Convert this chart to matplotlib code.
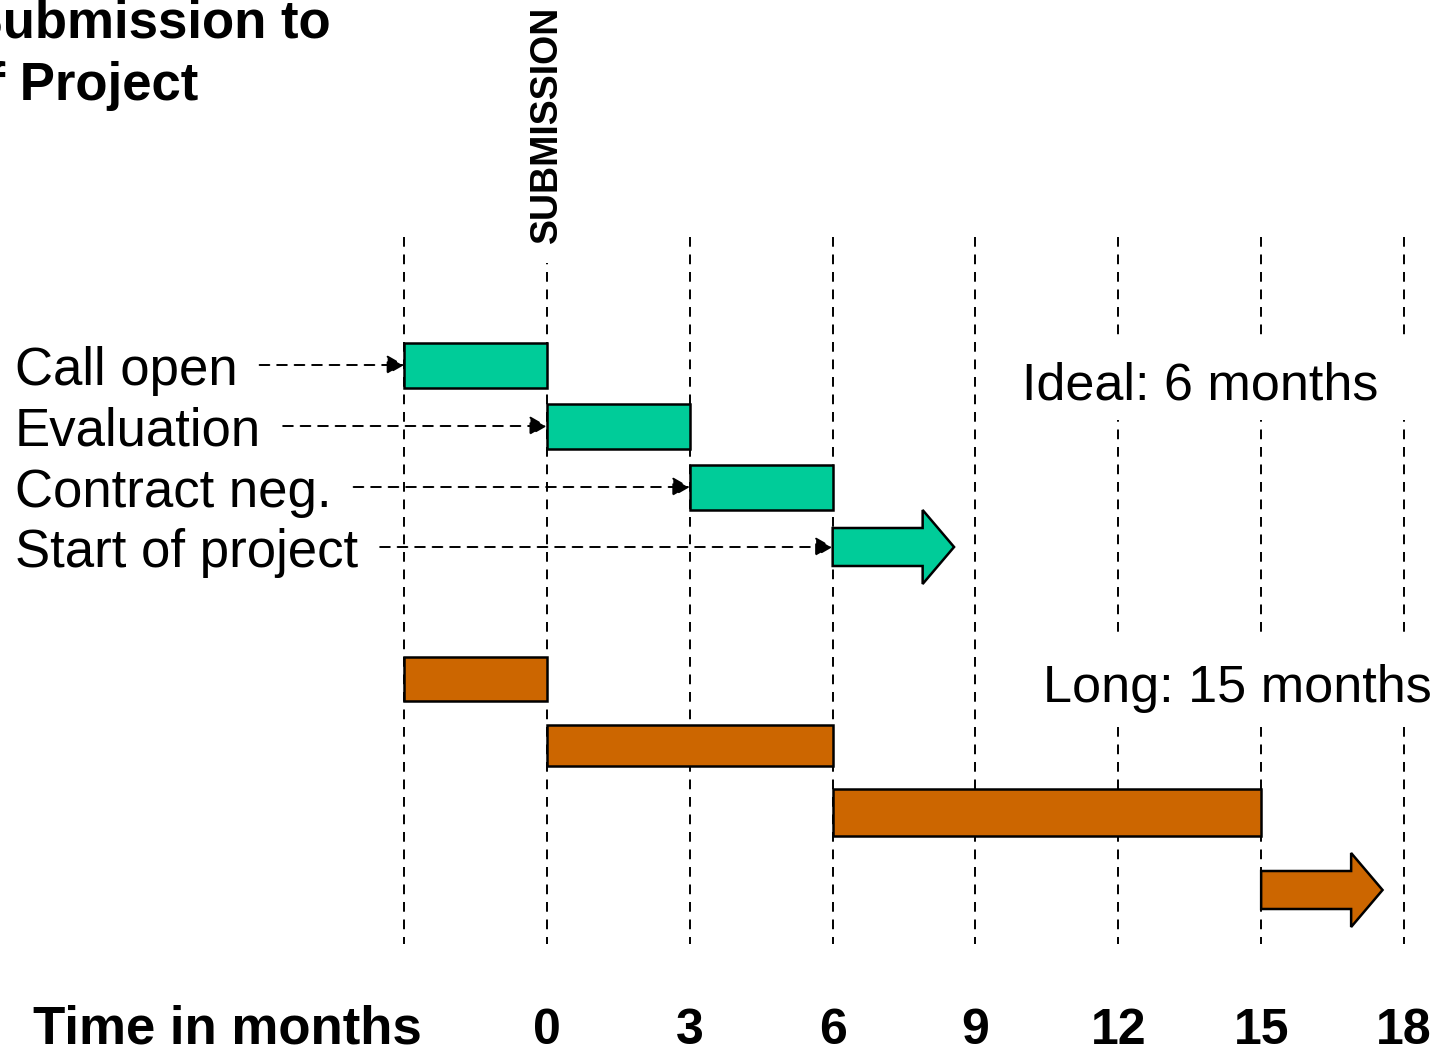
import matplotlib
matplotlib.use("Agg")
import matplotlib.pyplot as plt
from matplotlib.patches import FancyArrow, Rectangle

plt.rcParams['font.family'] = ['Liberation Sans', 'DejaVu Sans']

# --- data -------------------------------------------------------------
phases = ["Call open", "Evaluation", "Contract neg.", "Start of project"]
ideal_start = [-3, 0, 3, 6]
ideal_end = [0, 3, 6]          # last phase (start of project) is open ended
long_start = [-3, 0, 6, 15]
long_end = [0, 6, 15]
grid_months = [-3, 0, 3, 6, 9, 12, 15, 18]
tick_months = [0, 3, 6, 9, 12, 15, 18]
tick_labels = ["0", "3", "6", "9", "12", "15", "18"]
ideal_label = "Ideal: 6 months"
long_label = "Long: 15 months"

# --- layout (pixels, figure is 1450 x 1055) ---------------------------
W, H = 1450, 1055
X0_PX = 547.0          # pixel of month 0
PX_PER_MONTH = 47.61

def px(xp):
    """pixel x -> months"""
    return (xp - X0_PX) / PX_PER_MONTH

ideal_rows = [365, 426, 487, 547]
long_rows = [679, 745, 812, 890]
ideal_heights = [45, 45, 45]
long_heights = [44, 41, 47]
arrow_len = 2.55
green = '#00CC99'
orange = '#CC6600'
dash = (0, (5, 4))

fig = plt.figure(figsize=(W / 100, H / 100), dpi=100)
ax = fig.add_axes([0, 0, 1, 1])
ax.set_xlim(px(0), px(W))
ax.set_ylim(H, 0)
ax.axis('off')

# vertical month lines
ax.vlines(grid_months, 237, 944, colors='black', linestyles=dash, lw=1.4, zorder=1)

# white boxes behind the two summary labels
for y0, y1 in [(337, 420), (635, 727)]:
    ax.add_patch(Rectangle((px(1000), y0), px(W + 5) - px(1000), y1 - y0,
                           facecolor='white', edgecolor='none', zorder=2))

ax.text(px(1022), 400, ideal_label, fontsize=37.5, ha='left', va='baseline', zorder=3)
ax.text(px(1043), 702, long_label, fontsize=37.5, ha='left', va='baseline', zorder=3)


def draw_track(starts, ends, rows, heights, color):
    for s, e, y, h in zip(starts, ends, rows, heights):
        ax.barh(y, e - s, left=s, height=h, color=color, edgecolor='black',
                linewidth=1.8, zorder=4)
    ax.add_patch(FancyArrow(starts[-1], rows[-1], arrow_len, 0, width=38,
                            head_width=74, head_length=0.66,
                            length_includes_head=True, facecolor=color,
                            edgecolor='black', linewidth=1.8, zorder=4))


draw_track(ideal_start, ideal_end, ideal_rows, ideal_heights, green)
draw_track(long_start, long_end, long_rows, long_heights, orange)

# phase labels with dashed pointers to the ideal bars
fig.canvas.draw()
renderer = fig.canvas.get_renderer()
for name, s, y in zip(phases, ideal_start, ideal_rows):
    t = ax.text(px(15), y + 20, name, fontsize=38, ha='left', va='baseline', zorder=3)
    bb = t.get_window_extent(renderer)
    x_from = px(bb.x1 + 22)
    ax.annotate('', xy=(s, y), xytext=(x_from, y),
                arrowprops=dict(arrowstyle='-|>,head_length=0.7,head_width=0.4',
                                mutation_scale=15, linestyle=dash, lw=1.4,
                                color='black', fc='black', shrinkA=0, shrinkB=0),
                zorder=5)

# submission marker
ax.text(0, 243, "SUBMISSION", rotation=90, fontsize=27, fontweight='bold',
        ha='center', va='bottom', zorder=3,
        bbox=dict(facecolor='white', edgecolor='none', pad=14))

# title (cut by the left edge in the source slide)
ax.text(px(331), 37, "Time from Submission to", fontsize=38, fontweight='bold',
        ha='right', va='baseline')
ax.text(px(198), 100, "Start of Project", fontsize=38, fontweight='bold',
        ha='right', va='baseline')

# time axis
ax.text(px(33), 1044, "Time in months", fontsize=38, fontweight='bold',
        ha='left', va='baseline')
for m, lab in zip(tick_months, tick_labels):
    ax.text(m, 1044, lab, fontsize=36, fontweight='bold', ha='center', va='baseline')

fig.savefig('out.png', dpi=100)
